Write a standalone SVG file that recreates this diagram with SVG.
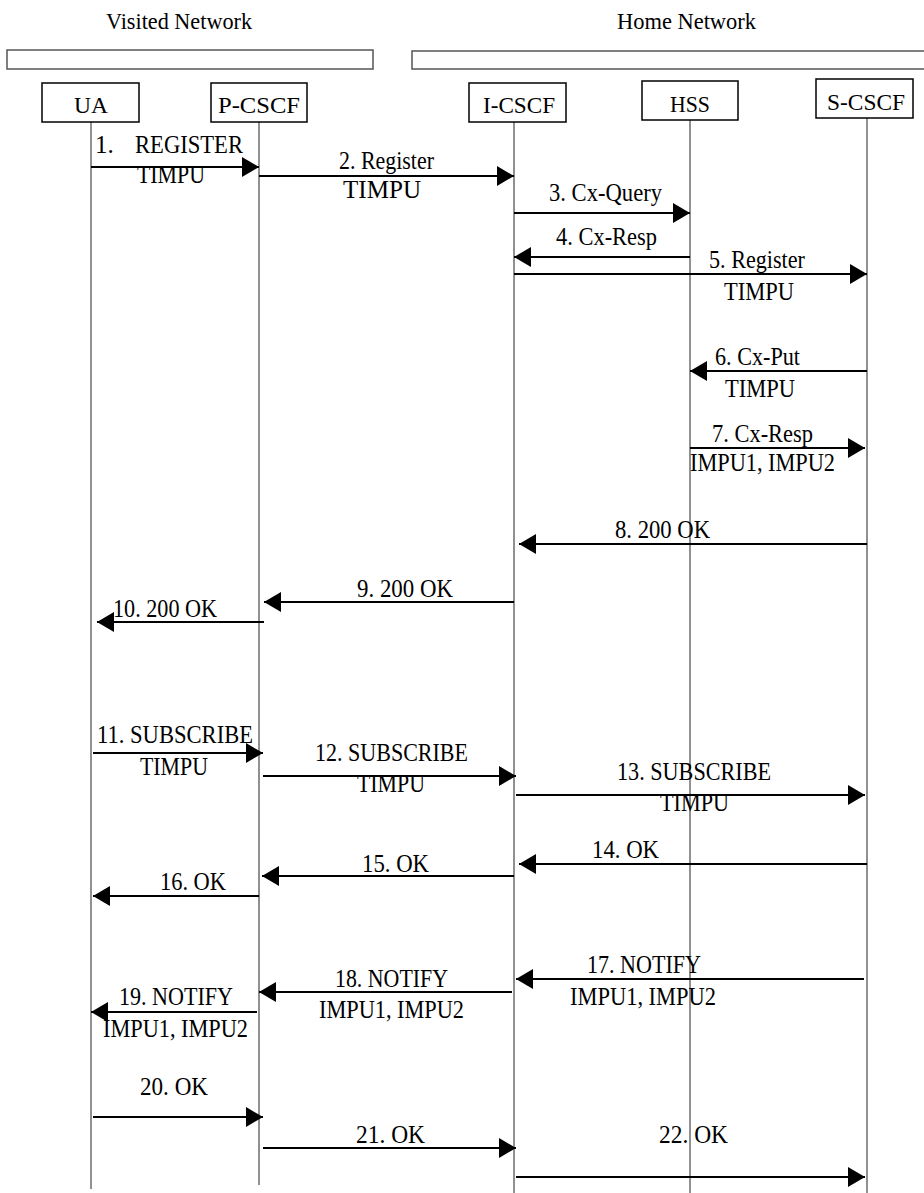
<svg xmlns="http://www.w3.org/2000/svg" width="924" height="1193" viewBox="0 0 924 1193">
<style>
text{font-family:"Liberation Serif","Times New Roman",serif;font-size:25px;fill:#000}
.hd{font-size:24px}
.box{fill:#fff;stroke:#000;stroke-width:1.5}
.net{fill:none;stroke:#555;stroke-width:1.5}
.life{stroke:#222;stroke-width:1}
.msg{stroke:#000;stroke-width:2;fill:none;marker-end:url(#ah)}
</style>
<defs>
<marker id="ah" viewBox="0 0 17 20" refX="17" refY="10" markerWidth="17" markerHeight="20" markerUnits="userSpaceOnUse" orient="auto">
<path d="M0,0 L17,10 L0,20 z" fill="#000"/>
</marker>
</defs>
<rect width="924" height="1193" fill="#fff"/>
<g id="visited-network">
<text class="hd" x="106" y="29" textLength="146" lengthAdjust="spacingAndGlyphs">Visited Network</text>
<rect class="net" x="7" y="50" width="366" height="19"/>
</g>
<g id="home-network">
<text class="hd" x="617" y="29" textLength="139" lengthAdjust="spacingAndGlyphs">Home Network</text>
<path class="net" d="M924,51 H412 V69 H924"/>
</g>
<g id="lifelines">
<line class="life" x1="91" y1="122" x2="91" y2="1189"/>
<line class="life" x1="259" y1="122" x2="259" y2="1185"/>
<line class="life" x1="514" y1="122" x2="514" y2="1193"/>
<line class="life" x1="690" y1="120" x2="690" y2="1193"/>
<line class="life" x1="867" y1="118" x2="867" y2="1193"/>
</g>
<g id="UA">
<rect class="box" x="42" y="83" width="97" height="39"/>
<text class="hd" x="74" y="113" textLength="34" lengthAdjust="spacingAndGlyphs">UA</text>
</g>
<g id="P-CSCF">
<rect class="box" x="211" y="83" width="96" height="39"/>
<text class="hd" x="218" y="113" textLength="82" lengthAdjust="spacingAndGlyphs">P-CSCF</text>
</g>
<g id="I-CSCF">
<rect class="box" x="469" y="83" width="97" height="39"/>
<text class="hd" x="483" y="113" textLength="72" lengthAdjust="spacingAndGlyphs">I-CSCF</text>
</g>
<g id="HSS">
<rect class="box" x="642" y="81" width="96" height="39"/>
<text class="hd" x="670" y="112" textLength="40" lengthAdjust="spacingAndGlyphs">HSS</text>
</g>
<g id="S-CSCF">
<rect class="box" x="816" y="79" width="97" height="39"/>
<text class="hd" x="827" y="110" textLength="78" lengthAdjust="spacingAndGlyphs">S-CSCF</text>
</g>
<g id="connectors">
<line class="msg" x1="91" y1="167" x2="259" y2="167"/>
<line class="msg" x1="259" y1="176" x2="514" y2="176"/>
<line class="msg" x1="514" y1="213" x2="690" y2="213"/>
<line class="msg" x1="690" y1="257" x2="514" y2="257"/>
<line class="msg" x1="514" y1="274" x2="867" y2="274"/>
<line class="msg" x1="867" y1="371" x2="690" y2="371"/>
<line class="msg" x1="690" y1="448" x2="865" y2="448"/>
<line class="msg" x1="867" y1="544" x2="519" y2="544"/>
<line class="msg" x1="514" y1="602" x2="264" y2="602"/>
<line class="msg" x1="264" y1="622" x2="97" y2="622"/>
<line class="msg" x1="93" y1="753" x2="263" y2="753"/>
<line class="msg" x1="263" y1="776" x2="516" y2="776"/>
<line class="msg" x1="516" y1="795" x2="865" y2="795"/>
<line class="msg" x1="867" y1="864" x2="519" y2="864"/>
<line class="msg" x1="514" y1="876" x2="262" y2="876"/>
<line class="msg" x1="259" y1="896" x2="93" y2="896"/>
<line class="msg" x1="864" y1="979" x2="516" y2="979"/>
<line class="msg" x1="512" y1="992" x2="259" y2="992"/>
<line class="msg" x1="257" y1="1012" x2="91" y2="1012"/>
<line class="msg" x1="93" y1="1117" x2="263" y2="1117"/>
<line class="msg" x1="263" y1="1148" x2="516" y2="1148"/>
<line class="msg" x1="516" y1="1177" x2="865" y2="1177"/>
</g>
<g id="labels">
<text x="95" y="153">1.</text>
<text x="135" y="153" textLength="108" lengthAdjust="spacingAndGlyphs">REGISTER</text>
<text x="137" y="183" textLength="68" lengthAdjust="spacingAndGlyphs">TIMPU</text>
<text x="339" y="169" textLength="95" lengthAdjust="spacingAndGlyphs">2. Register</text>
<text x="343" y="198" textLength="78" lengthAdjust="spacingAndGlyphs">TIMPU</text>
<text x="549" y="201" textLength="113" lengthAdjust="spacingAndGlyphs">3. Cx-Query</text>
<text x="556" y="245" textLength="101" lengthAdjust="spacingAndGlyphs">4. Cx-Resp</text>
<text x="709" y="268" textLength="96" lengthAdjust="spacingAndGlyphs">5. Register</text>
<text x="724" y="300" textLength="70" lengthAdjust="spacingAndGlyphs">TIMPU</text>
<text x="715" y="365" textLength="85" lengthAdjust="spacingAndGlyphs">6. Cx-Put</text>
<text x="725" y="397" textLength="70" lengthAdjust="spacingAndGlyphs">TIMPU</text>
<text x="712" y="442" textLength="101" lengthAdjust="spacingAndGlyphs">7. Cx-Resp</text>
<text x="690" y="471" textLength="145" lengthAdjust="spacingAndGlyphs">IMPU1, IMPU2</text>
<text x="615" y="538" textLength="95" lengthAdjust="spacingAndGlyphs">8. 200 OK</text>
<text x="357" y="597" textLength="96" lengthAdjust="spacingAndGlyphs">9. 200 OK</text>
<text x="113" y="617" textLength="104" lengthAdjust="spacingAndGlyphs">10. 200 OK</text>
<text x="97" y="743" textLength="156" lengthAdjust="spacingAndGlyphs">11. SUBSCRIBE</text>
<text x="140" y="775" textLength="68" lengthAdjust="spacingAndGlyphs">TIMPU</text>
<text x="315" y="761" textLength="153" lengthAdjust="spacingAndGlyphs">12. SUBSCRIBE</text>
<text x="357" y="792" textLength="68" lengthAdjust="spacingAndGlyphs">TIMPU</text>
<text x="617" y="780" textLength="154" lengthAdjust="spacingAndGlyphs">13. SUBSCRIBE</text>
<text x="660" y="811" textLength="69" lengthAdjust="spacingAndGlyphs">TIMPU</text>
<text x="592" y="858" textLength="67" lengthAdjust="spacingAndGlyphs">14. OK</text>
<text x="362" y="872" textLength="67" lengthAdjust="spacingAndGlyphs">15. OK</text>
<text x="160" y="890" textLength="66" lengthAdjust="spacingAndGlyphs">16. OK</text>
<text x="587" y="973" textLength="114" lengthAdjust="spacingAndGlyphs">17. NOTIFY</text>
<text x="570" y="1005" textLength="146" lengthAdjust="spacingAndGlyphs">IMPU1, IMPU2</text>
<text x="335" y="987" textLength="113" lengthAdjust="spacingAndGlyphs">18. NOTIFY</text>
<text x="319" y="1018" textLength="145" lengthAdjust="spacingAndGlyphs">IMPU1, IMPU2</text>
<text x="119" y="1005" textLength="114" lengthAdjust="spacingAndGlyphs">19. NOTIFY</text>
<text x="103" y="1037" textLength="145" lengthAdjust="spacingAndGlyphs">IMPU1, IMPU2</text>
<text x="140" y="1095" textLength="68" lengthAdjust="spacingAndGlyphs">20. OK</text>
<text x="356" y="1143" textLength="69" lengthAdjust="spacingAndGlyphs">21. OK</text>
<text x="659" y="1143" textLength="69" lengthAdjust="spacingAndGlyphs">22. OK</text>
</g>
</svg>
